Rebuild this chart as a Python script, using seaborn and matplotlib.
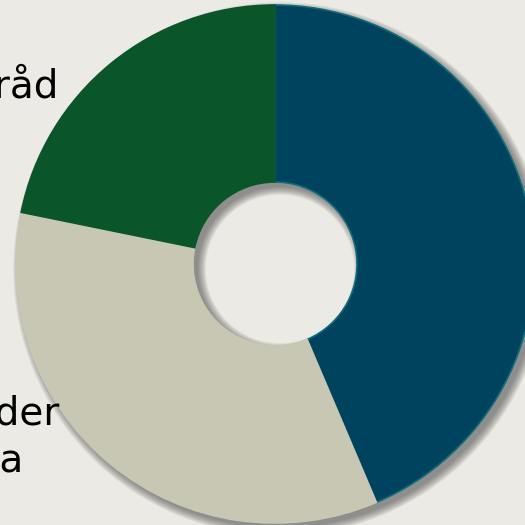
import matplotlib
matplotlib.use("Agg")
import matplotlib.pyplot as plt
from matplotlib.patches import Wedge
import seaborn as sns

# Andelar (läst ur bilden), medurs från klockan tolv
labels = ["Statliga myndigheter", "Övriga nämnder\ni kommunerna", "Kommunala råd"]
shares = [43.6, 34.6, 21.8]
colors = ["#00435E", "#C8C7B3", "#0B552B"]
edges = ["#0E6B7A", "#C8C7B3", "#0B552B"]

BG = "#EBEAE4"
W = H = 525
CX, CY, R, RIN = 275, 264, 259, 82

sns.set_theme(style="white", rc={"figure.facecolor": BG, "axes.facecolor": BG})
plt.rcParams["font.family"] = ["DejaVu Sans"]

fig = plt.figure(figsize=(W / 100, H / 100), dpi=100)
ax = fig.add_axes([0, 0, 1, 1])
ax.axis("off")

# mjuk skugga nere till höger
px = 1 / R
for k in range(8):
    grow = k * 1.1 * px
    ring = Wedge((5 * px, -5 * px), 1 + grow, 0, 360, width=1 - RIN / R + 2 * grow,
                 facecolor="#444444", edgecolor="none", alpha=0.09, zorder=1)
    ax.add_patch(ring)

wedges, _ = ax.pie(shares, colors=colors, startangle=90, counterclock=False,
                   radius=1, wedgeprops=dict(width=1 - RIN / R, linewidth=1.2))
for w, ec in zip(wedges, edges):
    w.set_edgecolor(ec)
    w.set_zorder(2)
ax.set_xlim(-CX / R, (W - CX) / R)
ax.set_ylim(-(H - CY) / R, CY / R)
ax.set_aspect("equal")

# etiketter, delvis utanför bilden till vänster
fig.text(58 / W, 1 - 97 / H, labels[2], ha="right", va="baseline",
         fontsize=28, color="black")
fig.text(59 / W, 1 - 472 / H, labels[1], ha="right", va="baseline",
         multialignment="left", fontsize=28, color="black", linespacing=1.3)

fig.savefig("out.png", dpi=100, facecolor=BG)
